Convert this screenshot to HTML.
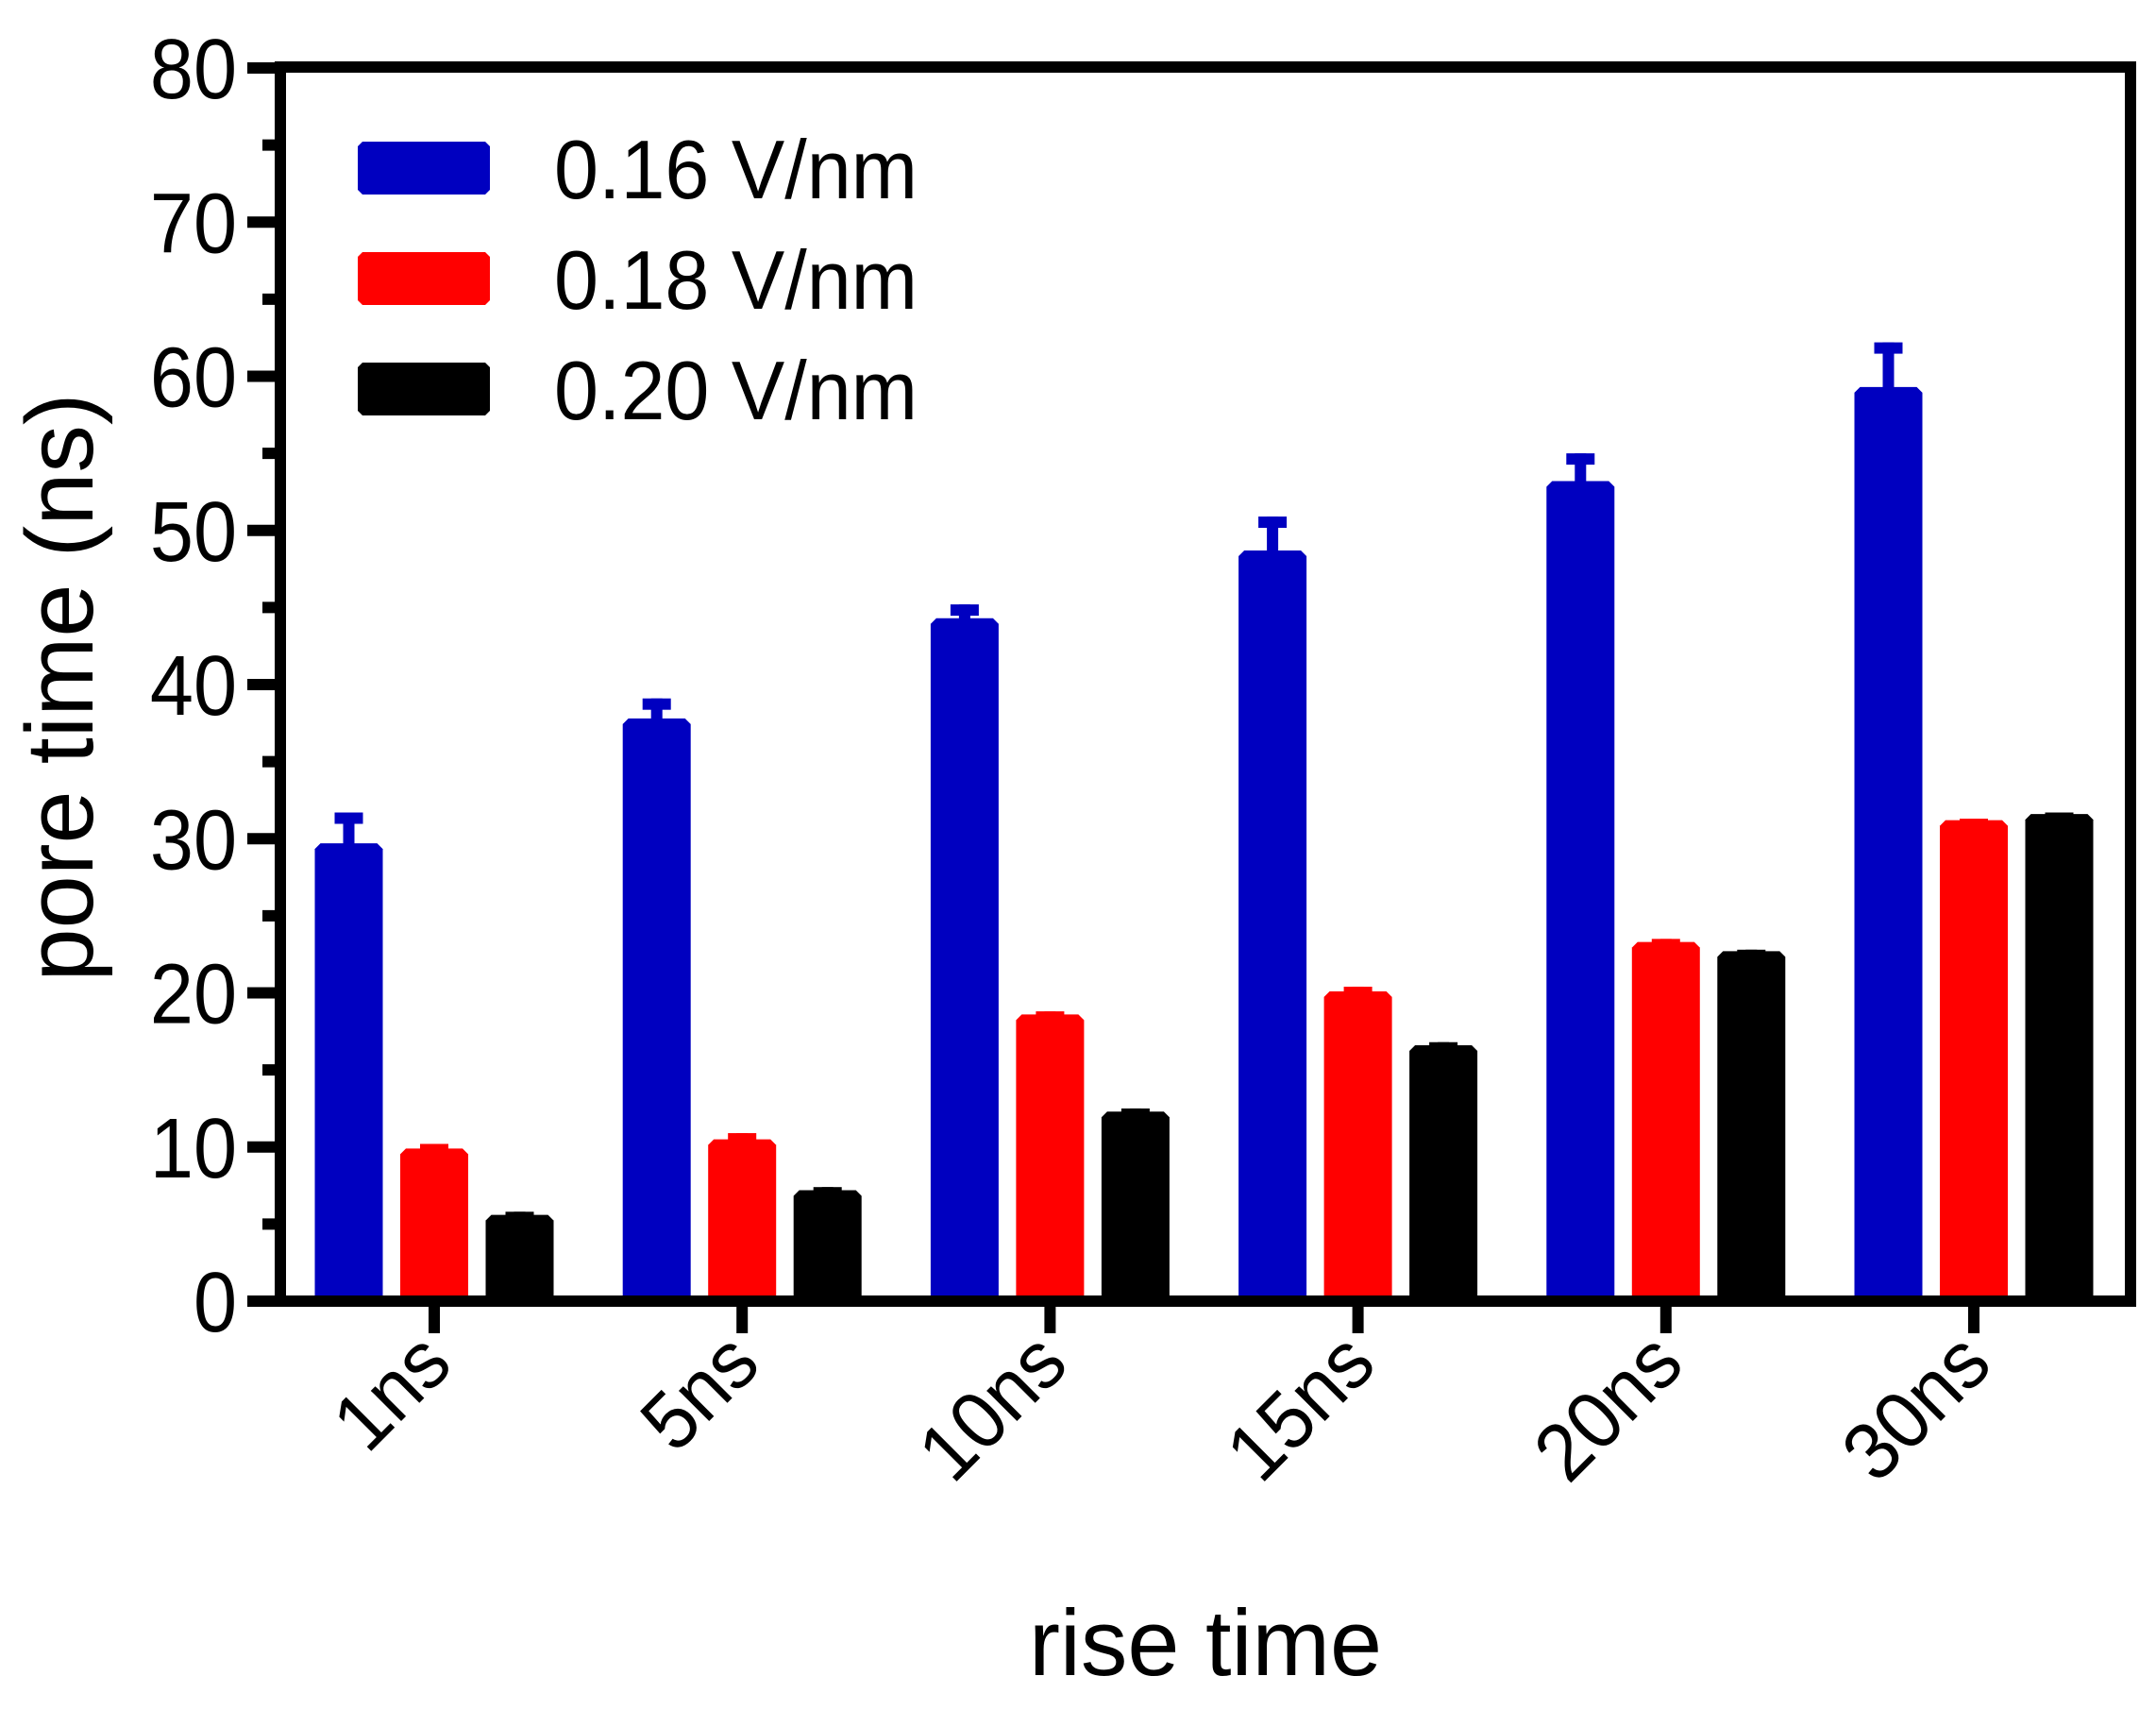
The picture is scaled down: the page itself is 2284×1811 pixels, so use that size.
<!DOCTYPE html>
<html><head><meta charset="utf-8"><style>
html,body{margin:0;padding:0;background:#fff;}
svg{display:block;font-family:"Liberation Sans",Arial,sans-serif;}
</style></head><body>
<svg id="chart" width="2284" height="1811" viewBox="0 0 2284 1811">
<g id="bars"></g>
<g id="axes"></g>
<g id="legend"></g>
<text x="0" y="0" transform="translate(98,728) rotate(-90)" text-anchor="middle" font-size="101">pore time (ns)</text>
<text x="1277" y="1774" text-anchor="middle" font-size="99">rise time</text>
</svg>
<script>
const categories = ["1ns","5ns","10ns","15ns","20ns","30ns"];
const seriesNames = ["0.16 V/nm","0.18 V/nm","0.20 V/nm"];
const seriesColors = ["#0000c0","#ff0000","#000000"];
const blueVals = [29.7,37.8,44.3,48.7,53.2,59.3];
const blueErr  = [2.0,1.3,0.9,2.2,1.8,2.9];
const redVals  = [9.9,10.5,18.6,20.1,23.3,31.2];
const redErr   = [0.3,0.4,0.2,0.3,0.2,0.1];
const blackVals= [5.6,7.2,12.3,16.6,22.7,31.6];
const blackErr = [0.2,0.2,0.2,0.2,0.1,0.1];
const yTicks = [0,10,20,30,40,50,60,70,80];

const NS="http://www.w3.org/2000/svg";
const X0=297, X1=2257, Y0=1378, Y80=72;
function yScale(v){return Y0-(Y0-Y80)*v/80;}
function xCenter(i){return 460+i*326.2;}
function mk(tag,attrs,parent){const e=document.createElementNS(NS,tag);for(const k in attrs)e.setAttribute(k,attrs[k]);parent.appendChild(e);return e;}
const bars=document.getElementById('bars'), axes=document.getElementById('axes'), legend=document.getElementById('legend');
const vals=[blueVals,redVals,blackVals], errs=[blueErr,redErr,blackErr];
const BW=72, STEP=90.5, C=6;
for(let s=0;s<3;s++){
  for(let i=0;i<categories.length;i++){
    const cx=xCenter(i)+(s-1)*STEP;
    const l=cx-BW/2, r=cx+BW/2, top=yScale(vals[s][i]);
    const p=mk('polygon',{points:`${l},${Y0} ${l},${top+C} ${l+C},${top} ${r-C},${top} ${r},${top+C} ${r},${Y0}`,fill:seriesColors[s]},bars);
    
    
    const et=yScale(vals[s][i]+errs[s][i]);
    const stem=mk('rect',{x:cx-6,y:et,width:12,height:Math.max(0,top-et+1),fill:seriesColors[s]},bars);
    
    
    const cap=mk('rect',{x:cx-15,y:et,width:30,height:Math.min(12,Math.max(5,top-et+5)),fill:seriesColors[s]},bars);
    
    
  }
}
const fr=mk('rect',{x:X0,y:Y80-1,width:X1-X0,height:Y0-Y80+1,fill:'none',stroke:'#000','stroke-width':12},axes);


for(const t of yTicks){
  const y=yScale(t);
  const tk=mk('line',{x1:262,x2:X0,y1:y,y2:y,stroke:'#000','stroke-width':12},axes);
  
  
  const tl=mk('text',{x:0,y:0,'text-anchor':'end','font-size':90,transform:`translate(251,${y+32}) scale(0.92,1)`},axes);
  tl.textContent=t;
  
  
  if(t<80){
    const ym=yScale(t+5);
    const mt=mk('line',{x1:278,x2:X0,y1:ym,y2:ym,stroke:'#000','stroke-width':12},axes);
    
    
  }
}
categories.forEach((c,i)=>{
  const x=xCenter(i);
  const tk=mk('line',{x1:x,x2:x,y1:Y0,y2:1412,stroke:'#000','stroke-width':12},axes);
  
  
  const tl=mk('text',{x:0,y:0,'text-anchor':'end','font-size':86,transform:`translate(${x+22},1448) rotate(-45) scale(0.95,1)`},axes);
  tl.textContent=c;
  
  
});
seriesNames.forEach((n,s)=>{
  const y=150+s*117;
  const sw=mk('polygon',{points:`379,${y+5} 384,${y} 514,${y} 519,${y+5} 519,${y+51} 514,${y+56} 384,${y+56} 379,${y+51}`,fill:seriesColors[s]},legend);
  
  
  const t=mk('text',{x:0,y:0,'font-size':88,transform:`translate(587,${y+60}) scale(0.96,1)`},legend);
  t.textContent=n;
  
  
});
</script>
</body></html>
